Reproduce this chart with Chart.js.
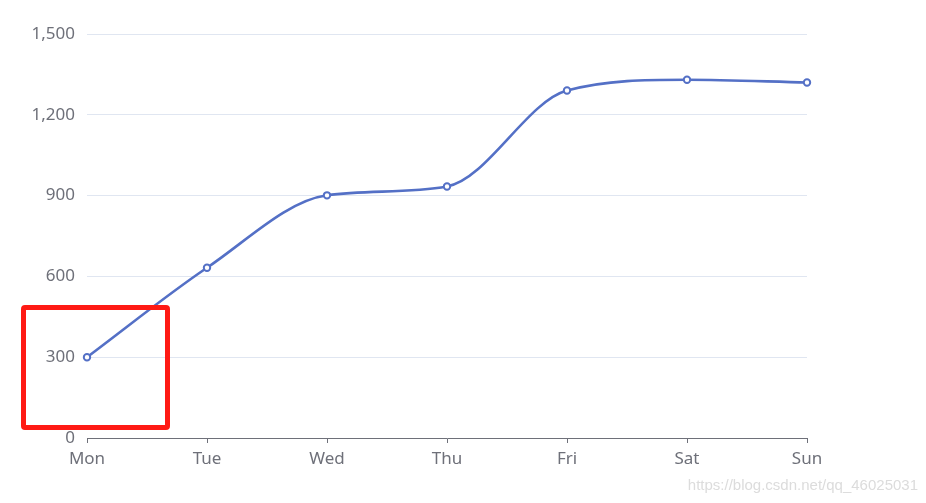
<!DOCTYPE html>
<html>
<head>
<meta charset="utf-8">
<script src="https://cdn.jsdelivr.net/npm/chart.js@4"></script>
<style>
  html, body { margin: 0; padding: 0; background: #fff; }
  #wrap { position: relative; width: 926px; height: 503px; }
  #mark {
    position: absolute; left: 21px; top: 305px; width: 139px; height: 115px;
    border: 5px solid #ff1a14; border-radius: 4px;
  }
  #wm {
    position: absolute; right: 8px; top: 476px;
    font: 15px Arial, "Liberation Sans", sans-serif; color: #dcdcdc;
  }
</style>
</head>
<body>
<div id="wrap">
  <canvas id="lineChart" width="926" height="503"></canvas>
  <div id="mark"></div>
  <div id="wm">https://blog.csdn.net/qq_46025031</div>
</div>
<script>
const days = ['Mon', 'Tue', 'Wed', 'Thu', 'Fri', 'Sat', 'Sun'];
const values = [300, 632, 901, 934, 1290, 1330, 1320];
const yTicks = [0, 300, 600, 900, 1200, 1500];

const axisGrey = '#6E7079';

const ctx = document.getElementById('lineChart').getContext('2d');
new Chart(ctx, {
  type: 'line',
  data: {
    labels: days,
    datasets: [{
      data: values,
      borderColor: '#5470C6',
      borderWidth: 2.6,
      backgroundColor: '#fff',
      pointBackgroundColor: '#fff',
      pointBorderColor: '#5470C6',
      pointBorderWidth: 2,
      pointRadius: 3.2,
      cubicInterpolationMode: 'monotone',
      clip: false
    }]
  },
  options: {
    responsive: false,
    animation: false,
    layout: { padding: { top: 34, right: 119, bottom: 35, left: 0 } },
    plugins: {
      legend: { display: false },
      tooltip: { enabled: false }
    },
    scales: {
      x: {
        offset: false,
        afterFit: s => { s.height = 30; },
        border: { color: axisGrey, width: 1 },
        grid: { drawOnChartArea: false, color: axisGrey, tickLength: 5 },
        ticks: {
          color: axisGrey,
          padding: 6,
          font: { family: '"Noto Sans", sans-serif', size: 17 }
        }
      },
      y: {
        min: 0,
        max: 1500,
        afterFit: s => { s.width = 87; },
        afterBuildTicks: s => { s.ticks = yTicks.map(v => ({ value: v })); },
        border: { display: false },
        grid: { color: '#E0E6F1', drawTicks: false },
        ticks: {
          color: axisGrey,
          padding: 12,
          font: { family: '"Noto Sans", sans-serif', size: 17 },
          callback: v => v.toLocaleString('en-US')
        }
      }
    }
  }
});
</script>
</body>
</html>
